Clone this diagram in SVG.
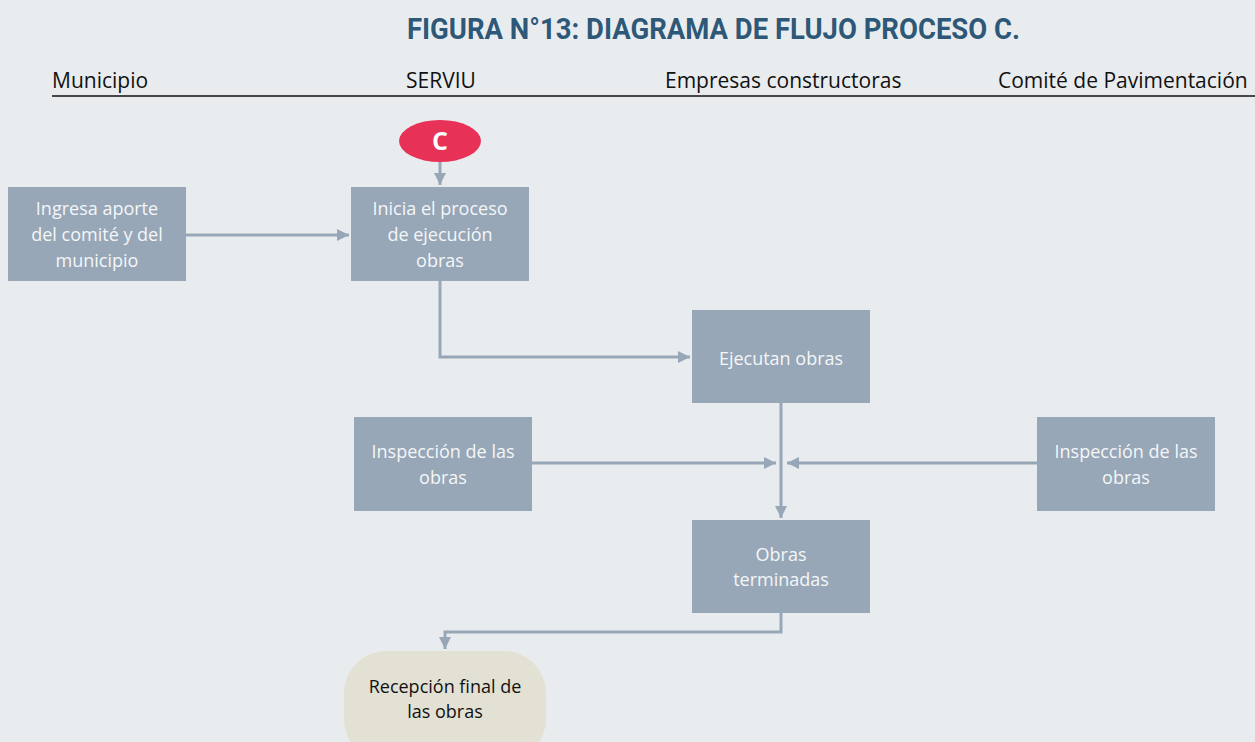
<svg xmlns="http://www.w3.org/2000/svg" width="1255" height="742" viewBox="0 0 1255 742">
<defs>
<style>
.bg{fill:#E9ECEF}
.box{fill:#97A7B7}
.bt{font-family:"Open Sans","Noto Sans",sans-serif;font-size:18px;fill:#F4F6F8;text-anchor:middle}
.hd{font-family:"Open Sans","Noto Sans",sans-serif;font-size:21px;fill:#111}
.cn{fill:none;stroke:#97A7B7;stroke-width:3}
</style>
<marker id="ah" viewBox="0 0 10 10" refX="10" refY="5" markerWidth="4" markerHeight="4" markerUnits="strokeWidth" orient="auto">
<path d="M0,0 L10,5 L0,10 z" fill="#97A7B7"/>
</marker>
</defs>
<rect class="bg" x="0" y="0" width="1255" height="742"/>
<text x="407" y="39" font-family="Roboto,'Liberation Sans',sans-serif" font-weight="700" font-size="30" fill="#2E5878" textLength="613" lengthAdjust="spacingAndGlyphs">FIGURA N°13: DIAGRAMA DE FLUJO PROCESO C.</text>
<g id="header">
<text class="hd" x="52" y="88">Municipio</text>
<text class="hd" x="406" y="88">SERVIU</text>
<text class="hd" x="665" y="88">Empresas constructoras</text>
<text class="hd" x="998" y="88">Comité de Pavimentación</text>
<line x1="52" y1="96" x2="1255" y2="96" stroke="#111" stroke-width="1.5"/>
</g>
<g id="connectors">
<path class="cn" d="M440,162 V185" marker-end="url(#ah)"/>
<path class="cn" d="M186,235 H349" marker-end="url(#ah)"/>
<path class="cn" d="M440,281 V357 H690" marker-end="url(#ah)"/>
<path class="cn" d="M781,403 V518" marker-end="url(#ah)"/>
<path class="cn" d="M532,463 H776" marker-end="url(#ah)"/>
<path class="cn" d="M1037,463 H787" marker-end="url(#ah)"/>
<path class="cn" d="M781,613 V632 H445 V649" marker-end="url(#ah)"/>
</g>
<g id="start-c">
<ellipse cx="440" cy="141" rx="41" ry="21" fill="#E73157"/>
<text x="440" y="150" font-family="'Open Sans','Noto Sans',sans-serif" font-weight="700" font-size="25" fill="#fff" text-anchor="middle">C</text>
</g>
<g id="ingresa">
<rect class="box" x="8" y="187" width="178" height="94"/>
<text class="bt" x="97" y="215">Ingresa aporte</text>
<text class="bt" x="97" y="241">del comité y del</text>
<text class="bt" x="97" y="267">municipio</text>
</g>
<g id="inicia">
<rect class="box" x="351" y="187" width="178" height="94"/>
<text class="bt" x="440" y="215">Inicia el proceso</text>
<text class="bt" x="440" y="241">de ejecución</text>
<text class="bt" x="440" y="267">obras</text>
</g>
<g id="ejecutan">
<rect class="box" x="692" y="310" width="178" height="93"/>
<text class="bt" x="781" y="365">Ejecutan obras</text>
</g>
<g id="inspeccion-1">
<rect class="box" x="354" y="417" width="178" height="94"/>
<text class="bt" x="443" y="458">Inspección de las</text>
<text class="bt" x="443" y="484">obras</text>
</g>
<g id="inspeccion-2">
<rect class="box" x="1037" y="417" width="178" height="94"/>
<text class="bt" x="1126" y="458">Inspección de las</text>
<text class="bt" x="1126" y="484">obras</text>
</g>
<g id="terminadas">
<rect class="box" x="692" y="520" width="178" height="93"/>
<text class="bt" x="781" y="561">Obras</text>
<text class="bt" x="781" y="586">terminadas</text>
</g>
<g id="recepcion">
<rect x="344" y="651" width="202" height="110" rx="42" ry="42" fill="#E3E0D4"/>
<text class="bt" x="445" y="693" style="fill:#111">Recepción final de</text>
<text class="bt" x="445" y="718" style="fill:#111">las obras</text>
</g>
</svg>
